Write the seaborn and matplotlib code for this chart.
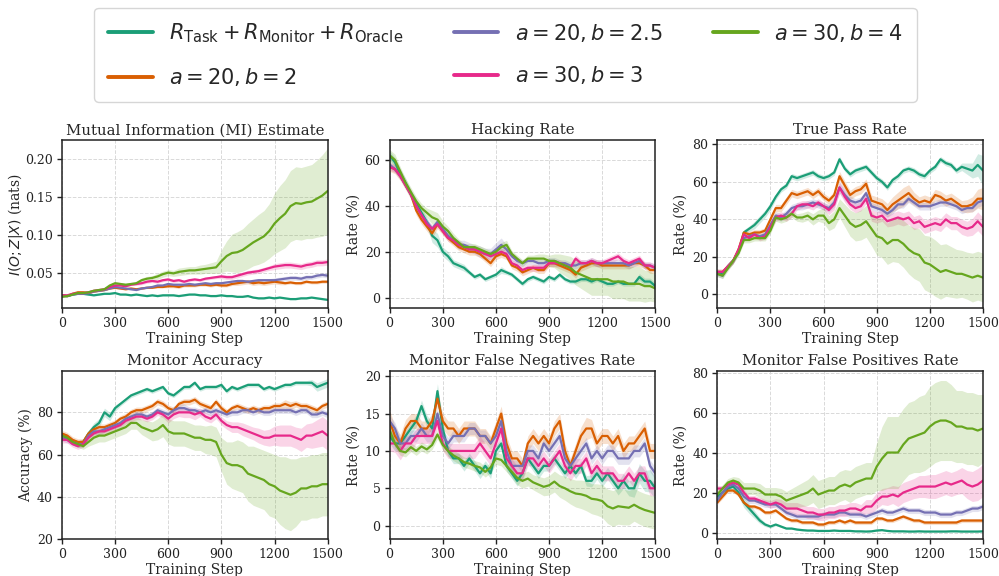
import numpy as np
import pandas as pd
import matplotlib
matplotlib.use("Agg")
import matplotlib.pyplot as plt
from matplotlib.lines import Line2D
import seaborn as sns

# ---------------------------------------------------------------- data
steps = np.arange(0, 1501, 30)

run_labels = [
    r"$R_{\mathrm{Task}}+R_{\mathrm{Monitor}}+R_{\mathrm{Oracle}}$",
    r"$a=20, b=2$",
    r"$a=20, b=2.5$",
    r"$a=30, b=3$",
    r"$a=30, b=4$",
]

# Mutual information estimate (nats): mean and spread per run
mi_task = [0.020,0.019,0.021,0.022,0.022,0.021,0.020,0.021,0.022,0.022,
           0.023,0.021,0.021,0.020,0.021,0.020,0.019,0.020,0.019,0.020,
           0.020,0.020,0.019,0.020,0.021,0.021,0.020,0.020,0.019,0.019,
           0.020,0.019,0.019,0.018,0.018,0.019,0.017,0.016,0.016,0.017,
           0.016,0.017,0.016,0.015,0.015,0.016,0.016,0.017,0.016,0.015,
           0.014]
mi_task_sd = [0.001,0.001,0.001,0.001,0.001,0.001,0.001,0.001,0.001,0.001,
              0.001,0.001,0.001,0.001,0.001,0.001,0.001,0.001,0.001,0.001,
              0.001,0.001,0.001,0.001,0.001,0.001,0.001,0.001,0.001,0.001,
              0.001,0.001,0.001,0.001,0.001,0.001,0.001,0.001,0.001,0.001,
              0.001,0.001,0.001,0.001,0.001,0.001,0.001,0.001,0.001,0.001,
              0.001]
mi_a20b2 = [0.020,0.019,0.022,0.024,0.024,0.023,0.025,0.026,0.027,0.029,
            0.030,0.029,0.028,0.029,0.028,0.029,0.030,0.030,0.031,0.031,
            0.032,0.032,0.031,0.033,0.033,0.033,0.034,0.034,0.033,0.034,
            0.033,0.033,0.035,0.036,0.037,0.038,0.036,0.037,0.036,0.037,
            0.038,0.037,0.036,0.037,0.036,0.036,0.038,0.037,0.037,0.038,
            0.038]
mi_a20b2_sd = [0.001,0.001,0.001,0.001,0.001,0.001,0.001,0.001,0.001,0.001,
               0.001,0.001,0.001,0.001,0.001,0.001,0.001,0.001,0.001,0.001,
               0.002,0.002,0.002,0.002,0.002,0.002,0.002,0.002,0.002,0.002,
               0.002,0.002,0.002,0.003,0.003,0.003,0.003,0.003,0.003,0.003,
               0.003,0.003,0.002,0.002,0.002,0.002,0.002,0.002,0.002,0.002,
               0.002]
mi_a20b25 = [0.019,0.019,0.021,0.022,0.022,0.023,0.025,0.026,0.027,0.029,
             0.031,0.030,0.029,0.028,0.027,0.029,0.030,0.031,0.033,0.033,
             0.035,0.034,0.034,0.034,0.035,0.034,0.035,0.036,0.035,0.036,
             0.036,0.037,0.038,0.039,0.039,0.038,0.039,0.040,0.040,0.040,
             0.040,0.041,0.042,0.043,0.043,0.042,0.044,0.044,0.046,0.047,
             0.046]
mi_a20b25_sd = [0.001,0.001,0.001,0.001,0.001,0.001,0.001,0.001,0.001,0.001,
                0.001,0.001,0.001,0.001,0.001,0.001,0.001,0.001,0.001,0.001,
                0.002,0.002,0.002,0.002,0.002,0.002,0.002,0.002,0.002,0.002,
                0.002,0.002,0.002,0.002,0.002,0.002,0.002,0.002,0.002,0.002,
                0.003,0.003,0.003,0.003,0.003,0.003,0.003,0.003,0.003,0.003,
                0.003]
mi_a30b3 = [0.020,0.020,0.022,0.023,0.023,0.024,0.026,0.027,0.028,0.031,
            0.033,0.033,0.032,0.034,0.035,0.036,0.038,0.039,0.038,0.040,
            0.041,0.039,0.040,0.038,0.040,0.041,0.040,0.042,0.043,0.044,
            0.045,0.044,0.044,0.046,0.048,0.050,0.051,0.052,0.054,0.056,
            0.058,0.059,0.060,0.060,0.059,0.058,0.060,0.061,0.063,0.063,
            0.064]
mi_a30b3_sd = [0.001,0.001,0.001,0.001,0.001,0.001,0.001,0.001,0.001,0.001,
               0.001,0.001,0.001,0.001,0.002,0.002,0.002,0.002,0.002,0.002,
               0.002,0.002,0.002,0.002,0.002,0.002,0.002,0.002,0.002,0.002,
               0.003,0.003,0.003,0.003,0.003,0.003,0.003,0.003,0.003,0.003,
               0.004,0.004,0.004,0.004,0.004,0.004,0.004,0.004,0.004,0.004,
               0.004]
mi_a30b4 = [0.018,0.019,0.021,0.023,0.023,0.024,0.026,0.027,0.028,0.033,
            0.036,0.035,0.034,0.035,0.036,0.040,0.042,0.043,0.045,0.048,
            0.050,0.049,0.051,0.052,0.053,0.053,0.054,0.055,0.056,0.057,
            0.065,0.072,0.076,0.077,0.080,0.085,0.090,0.094,0.098,0.105,
            0.115,0.122,0.128,0.138,0.142,0.141,0.143,0.144,0.148,0.152,
            0.158]
mi_a30b4_sd = [0.001,0.001,0.001,0.001,0.001,0.001,0.001,0.001,0.002,0.002,
               0.002,0.002,0.002,0.002,0.002,0.003,0.003,0.003,0.004,0.004,
               0.004,0.004,0.005,0.005,0.005,0.005,0.006,0.006,0.007,0.008,
               0.015,0.020,0.025,0.027,0.028,0.030,0.031,0.033,0.034,0.036,
               0.040,0.043,0.045,0.047,0.048,0.048,0.048,0.049,0.051,0.054,
               0.057]

# Hacking rate (%)
hack_task = [62,59,54,50,45,41,37,33,27,25,
             20,18,15,14,13,11,9,10,8,9,
             10,12,11,10,8,6,8,9,8,7,
             9,8,10,8,7,7,8,8,7,8,
             7,6,6,7,6,6,6,9,7,7,
             5]
hack_task_sd = [2,2,2,2,2,2,2,2,3,3,
                2,2,1.5,1.5,1.5,1,1,1,1,1,
                1,1.5,1,1,1,1,1,1,1,1,
                1,1,1,1,1,1,1,1,1,1,
                1,1,1,1,1,1,1,1.5,1.5,1.5,
                1.5]
hack_a20b2 = [57,56,53,49,45,38,34,31,28,32,
              29,26,24,22,21,20,20,19,17,15,
              18,19,18,14,13,11,12,13,12,12,
              15,15,14,13,12,10,13,14,15,15,
              14,14,14,14,14,14,15,15,14,12,
              12]
hack_a20b2_sd = [2,2,2,2,2,2,2,2,2,2,
                 1.5,1.5,1.5,1.5,1.5,1.5,1.5,1.5,1.5,1.5,
                 1.5,1.5,1.5,1.5,1.5,1.5,1.5,1.5,1.5,1.5,
                 1.5,1.5,1.5,1.5,1.5,1.5,1.5,1.5,1.5,1.5,
                 1.5,1.5,1.5,1.5,1.5,1.5,1.5,1.5,1.5,1.5,
                 1.5]
hack_a20b25 = [58,56,53,49,45,40,36,33,30,33,
               30,27,25,23,23,22,21,20,19,19,
               21,23,21,18,16,15,16,16,15,15,
               16,16,15,15,14,14,15,15,16,15,
               15,15,15,15,15,14,15,16,14,14,
               13]
hack_a20b25_sd = [1.5,1.5,1.5,1.5,1.5,1.5,1.5,1.5,1.5,1.5,
                  1.5,1.5,1.5,2,2,2,2,2.5,2.5,2.5,
                  3,3,2,2,1.5,1.5,1.5,1.5,1.5,1.5,
                  1.5,1.5,1.5,1.5,1.5,1.5,1.5,1.5,1.5,1.5,
                  1.5,1.5,1.5,1.5,1.5,1.5,1.5,1.5,1.5,1.5,
                  1.5]
hack_a30b3 = [57,56,53,49,45,40,36,32,30,32,
              29,26,25,23,22,21,21,20,19,18,
              19,20,19,15,14,12,13,13,13,13,
              15,15,15,14,13,17,15,15,16,15,
              15,16,17,18,16,15,16,17,14,14,
              13]
hack_a30b3_sd = [1.5,1.5,1.5,1.5,1.5,1.5,1.5,1.5,1.5,1.5,
                 1.5,1.5,1.5,1.5,1.5,1.5,1.5,1.5,1.5,1.5,
                 1.5,1.5,1.5,1.5,1.5,1.5,1.5,1.5,1.5,1.5,
                 1.5,1.5,1.5,1.5,1.5,1.5,1.5,1.5,1.5,1.5,
                 1.5,1.5,1.5,1.5,1.5,1.5,1.5,1.5,1.5,1.5,
                 1.5]
hack_a30b4 = [62,60,55,50,46,42,39,37,35,34,
              31,29,26,24,22,22,22,21,20,19,
              20,22,23,19,17,15,17,17,17,17,
              16,16,15,14,13,11,10,9,8,8,
              8,8,7,7,7,6,6,6,5,5,
              4]
hack_a30b4_sd = [2.5,2.5,2,2,2,2,2,2,3,3,
                 2.5,2,2,1.5,1.5,1.5,1.5,1.5,1.5,1.5,
                 1.5,2,2,1.5,1.5,1.5,1.5,1.5,2,2,
                 2.5,3,4,4.5,5,5.5,6,6.5,7,7,
                 7,7,7.5,7.5,7.5,7.5,7.5,7.5,7,6.5,
                 6]

# True pass rate (%)
pass_task = [12,11,15,18,23,33,35,37,40,43,
             47,52,56,58,63,62,63,64,65,63,
             62,63,65,72,67,64,66,67,68,65,
             62,60,57,61,63,66,67,66,64,63,
             66,68,72,70,69,66,68,67,66,69,
             66]
pass_task_sd = [1.5,1.5,1.5,1.5,1.5,1.5,1.5,2,2,2,
                2,1.5,1.5,1.5,1.5,1.5,1.5,1.5,1.5,1.5,
                1.5,1.5,1.5,1.5,1.5,1.5,1.5,1.5,1.5,1.5,
                1.5,1.5,1.5,1.5,1.5,1.5,1.5,1.5,1.5,1.5,
                1.5,1.5,1.5,1.5,1.5,1.5,2,3,4,6,
                8]
pass_a20b2 = [12,12,15,18,24,33,32,33,33,34,
              40,46,46,50,54,53,54,55,53,55,
              52,50,53,63,58,53,55,56,59,50,
              49,48,45,48,50,52,54,51,49,50,
              49,53,52,50,51,49,47,47,48,51,
              51]
pass_a20b2_sd = [1.5,1.5,1.5,1.5,1.5,1.5,1.5,1.5,1.5,1.5,
                 2,2,2,2,2,2,2,2,2,2,
                 2,2,2,2.5,2.5,2.5,2.5,2.5,2.5,3,
                 3,3,3.5,4,4.5,5,4.5,3.5,3,3,
                 3,3,3,3,3,3,3,3.5,4,5,
                 6]
pass_a20b25 = [11,10,15,18,23,30,31,32,31,32,
               37,42,41,43,46,47,47,48,49,48,
               47,46,49,57,53,50,49,50,54,47,
               46,45,43,45,48,48,51,49,47,47,
               47,48,49,49,48,47,45,46,46,49,
               50]
pass_a20b25_sd = [1.5,1.5,1.5,1.5,1.5,1.5,1.5,1.5,1.5,1.5,
                  2,2,2,2,2,2,2,2,2,2,
                  2,2,2.5,3,3,2.5,2,2,2,2,
                  2,2,2,2,2,2,2,2,2,2,
                  2,2,2,2,2,2,2,2,2,2.5,
                  2.5]
pass_a30b3 = [12,12,15,18,24,32,30,32,30,31,
              36,41,42,41,43,47,48,48,47,49,
              47,45,48,57,52,48,46,47,51,42,
              41,42,39,40,41,40,41,38,39,36,
              37,38,37,40,38,38,36,35,36,39,
              36]
pass_a30b3_sd = [1.5,1.5,1.5,1.5,1.5,1.5,1.5,1.5,1.5,1.5,
                 2,2,2,2,2,2,2,2,2,2,
                 2,2.5,3,3,3,2.5,2.5,2.5,2.5,3,
                 3,3,3,3.5,3.5,3.5,3.5,3.5,3.5,3.5,
                 3.5,3.5,3.5,3.5,3.5,3.5,4,4,4.5,5,
                 5]
pass_a30b4 = [11,10,14,18,22,29,29,30,30,30,
              34,41,40,41,43,41,41,42,40,42,
              42,38,40,46,42,38,36,37,39,35,
              31,30,27,29,29,27,24,22,21,17,
              16,14,12,13,12,11,11,10,9,10,
              9]
pass_a30b4_sd = [1.5,1.5,1.5,1.5,1.5,1.5,1.5,1.5,1.5,1.5,
                 1.5,2,2,2,2,2,2.5,2.5,3,3,
                 4,4,4.5,5,6,7,7.5,8,8.5,9,
                 10,10.5,11,11.5,12,12.5,13,13.5,14,14.5,
                 15,15,14.5,14,13.5,13,12.5,12.5,13,13,
                 13]

# Monitor accuracy (%)
acc_task = [69,68,66,65,66,70,73,75,80,78,
            82,84,86,88,89,90,91,90,91,92,
            89,88,90,92,92,94,91,92,92,92,
            93,90,92,91,92,93,93,93,91,92,
            91,92,93,93,94,94,94,94,92,93,
            94]
acc_task_sd = [1.5,1.5,1.5,1.5,1.5,1.5,2,2,2,2,
               1.5,1,1,1,1,1,1,1,1,1,
               1,1,1,1,1,1,1,1,1,1,
               1,1,1,1,1,1,1,1,1,1,
               1,1,1,1,1,1,1,1.5,2,2,
               2]
acc_a20b2 = [70,69,67,66,66,70,72,73,73,74,
             75,77,78,80,81,81,82,83,85,84,
             82,81,84,85,85,86,84,83,82,85,
             82,80,82,83,82,81,82,81,82,82,
             83,83,84,83,84,83,83,82,81,83,
             84]
acc_a20b2_sd = [1.5,1.5,1.5,1.5,1.5,1.5,1.5,1.5,1.5,1.5,
                1.5,1.5,1.5,1.5,1.5,1.5,1.5,1.5,1.5,1.5,
                1.5,1.5,1.5,1.5,1.5,1.5,1.5,1.5,1.5,1.5,
                1.5,1.5,1.5,1.5,1.5,1.5,1.5,1.5,1.5,1.5,
                1.5,1.5,2,2,1.5,1.5,1.5,1.5,1.5,1.5,
                1.5]
acc_a20b25 = [68,67,66,65,65,69,71,71,72,73,
              74,75,77,78,79,79,78,79,81,80,
              79,81,82,82,81,81,80,81,80,81,
              80,79,80,80,81,81,80,81,80,80,
              81,81,81,81,80,81,81,79,79,80,
              79]
acc_a20b25_sd = [1.5,1.5,1.5,1.5,1.5,1.5,1.5,1.5,1.5,1.5,
                 1.5,1.5,1.5,1.5,1.5,1.5,1.5,1.5,1.5,1.5,
                 1.5,2,2,2,1.5,1.5,1.5,1.5,1.5,1.5,
                 1.5,1.5,1.5,1.5,1.5,1.5,1.5,1.5,1.5,1.5,
                 1.5,1.5,1.5,1.5,1.5,1.5,1.5,1.5,1.5,1.5,
                 1.5]
acc_a30b3 = [67,67,65,64,65,68,70,71,71,72,
             73,74,76,77,78,78,77,78,80,79,
             77,79,80,80,80,79,80,78,77,79,
             76,74,73,73,72,71,70,69,68,68,
             69,69,69,69,68,67,69,69,70,71,
             69]
acc_a30b3_sd = [1.5,1.5,1.5,1.5,1.5,1.5,1.5,1.5,1.5,1.5,
                1.5,1.5,1.5,1.5,1.5,1.5,1.5,1.5,1.5,1.5,
                2,2,2,2.5,2.5,2.5,2,2,2,2,
                2,2,2.5,2.5,3,3,3,3.5,3.5,4,
                4.5,5,5,5,5,5.5,5.5,6,6.5,7,
                7]
acc_a30b4 = [69,68,66,65,64,66,68,69,69,70,
             71,72,73,75,75,73,72,71,72,74,
             71,70,70,70,69,68,68,67,67,66,
             60,56,55,55,54,51,50,49,48,46,
             45,43,42,41,42,44,44,45,45,46,
             46]
acc_a30b4_sd = [1.5,1.5,1.5,1.5,1.5,2,3,3,3,3,
                3,3,3,3,3,3.5,4,4.5,5,5.5,
                6,6,6,6,6,6,6,6.5,7,7,
                8,10,11,12,12,13,14,14,14,15,
                15,16,17,17,16,15,15,15,15,15,
                15]

# Monitor false negatives rate (%)
fn_task = [12,11,11,12,13,14,16,14,13,18,
           13,10,9,9,8,9,8,7,8,7,
           10,11,8,7,6,7,9,8,7,8,
           8,9,8,7,8,7,8,6,6,7,
           6,7,6,5,6,5,5,7,6,6,
           5]
fn_task_sd = [1,1,0.8,0.8,0.8,0.8,0.8,0.8,0.8,1,
              0.8,0.7,0.7,0.7,0.7,0.7,0.7,0.7,0.7,0.7,
              0.7,0.7,0.7,0.7,0.7,0.7,0.7,0.7,0.7,0.7,
              0.7,0.7,0.7,0.7,0.7,0.7,0.7,0.7,0.8,0.8,
              0.8,0.8,0.8,0.9,1,1,1.2,1.3,1.4,1.5,
              1.5]
fn_a20b2 = [14,12,11,13,14,14,13,13,14,17,
            14,13,13,12,13,13,13,12,12,11,
            13,15,11,9,9,8,11,12,11,12,
            11,13,14,10,8,10,12,13,13,11,
            12,12,11,12,10,11,11,12,13,10,
            10]
fn_a20b2_sd = [1.5,1.3,1.2,1.2,1,1,1,1,1,1,
               1,1,1,1,1,1,1,1,1,1,
               1,1,1,1,1,1,1,1,1,1,
               1,1,1,1,1,1,1.2,1.5,1.2,1,
               1,1,1,1,1,1,1,1,1,1,
               1]
fn_a20b25 = [14,13,11,11,12,12,13,12,12,15,
             12,11,12,12,12,13,13,12,12,11,
             12,14,10,8,8,8,10,10,9,11,
             10,11,12,9,8,9,10,11,9,10,
             9,10,10,9,9,9,10,10,11,8,
             7]
fn_a20b25_sd = [0.8,0.8,0.8,0.8,0.8,0.8,0.8,0.8,0.8,0.8,
                0.8,0.8,0.8,0.8,0.8,0.8,0.8,0.8,0.8,0.8,
                0.8,0.8,0.8,0.8,0.8,0.8,0.8,0.8,0.8,0.8,
                0.8,0.8,0.8,0.8,0.8,0.8,0.8,0.8,0.8,0.8,
                0.8,0.8,0.8,0.8,0.8,0.8,0.8,0.8,0.8,0.8,
                0.8]
fn_a30b3 = [11,11,10,11,11,12,12,12,12,14,
            11,10,10,10,10,10,10,11,10,9,
            11,13,9,8,7,7,9,9,8,9,
            8,9,10,8,7,8,8,9,7,8,
            7,7,7,6,6,7,6,7,7,5,
            5]
fn_a30b3_sd = [1,1.2,1.2,1,1,1,1,1,1,1,
               1,1,1,1,1,1,1,1,1,1,
               1,1,1,1,1,1,1,1,1,1,
               1,1,1,1,1,1,1,1,1,1,
               1,1,1,1,1,1,1,1,1,1,
               1]
fn_a30b4 = [12.8,11.0,10.0,9.8,10.5,10.0,10.6,10.2,10.8,12.2,
            10.8,10.0,9.4,9.0,8.5,8.3,8.0,7.8,7.2,7.8,
            9.0,8.8,8.0,7.2,6.4,6.0,6.3,5.8,5.5,5.2,
            5.4,5.9,5.3,5.0,4.6,4.3,4.2,4.0,3.6,3.5,
            3.3,2.6,2.3,2.6,2.5,2.4,2.8,2.4,2.1,1.9,
            1.7]
fn_a30b4_sd = [0.6,0.6,0.6,0.6,0.6,0.6,0.6,0.6,0.6,0.6,
               0.7,0.7,0.7,0.7,0.7,0.7,0.7,0.7,0.7,0.7,
               0.8,0.8,0.8,0.8,0.9,1,1,1,1.1,1.2,
               1.3,1.4,1.5,1.6,1.7,1.8,1.9,2,2,2.1,
               2.2,2.3,2.4,2.4,2.4,2.3,2.2,2.2,2.2,2.2,
               2.2]

# Monitor false positives rate (%)
fp_task = [18,20,22,23,20,15,12,9,6,4,
           3,4,3,2,2,1.5,1.2,1,1,0.8,
           0.8,0.8,1,0.8,0.8,0.8,0.6,0.6,0.5,0.6,
           1,1.2,0.8,0.6,0.6,0.6,0.5,0.5,0.6,0.5,
           0.5,0.5,0.5,0.5,0.6,0.6,0.5,0.5,0.5,0.5,
           0.6]
fp_task_sd = [1.5,1.5,1.5,1.5,2,2.5,2.5,2,1.5,1,
              0.8,0.6,0.5,0.4,0.4,0.4,0.4,0.4,0.4,0.4,
              0.3,0.3,0.3,0.3,0.3,0.3,0.3,0.3,0.3,0.3,
              0.3,0.3,0.3,0.3,0.3,0.3,0.3,0.3,0.3,0.3,
              0.3,0.3,0.3,0.3,0.3,0.3,0.3,0.3,0.3,0.3,
              0.3]
fp_a20b2 = [15,18,21,21,19,15,13,13,12,10,
            10,11,9,7,6,6,5,5,5,4,
            4,5,5,6,5,6,5,5,5,5,
            7,7,6,6,7,8,7,6,6,5,
            5,5,5,5,5,5,6,6,6,6,
            6]
fp_a20b2_sd = [1,1,1,1,1,1,1,1,1,1,
               1,1,1,1,1,1,1,1,1,1,
               1,1,1,1,1,1,1,1,1,1,
               1,1,1,1,1,1,1,1,1,1,
               1,1,1,1,1,1,1,1,1,1,
               1]
fp_a20b25 = [16,20,23,24,22,18,16,16,15,14,
             14,14,12,10,9,8,8,8,8,8,
             9,9,9,10,10,9,9,9,8,9,
             10,11,10,10,11,12,11,11,11,10,
             10,10,9,9,9,10,10,11,12,12,
             13]
fp_a20b25_sd = [1.5,1.5,1.5,1.5,1.5,1.5,1.5,1.5,1.5,1.5,
                1.5,1.5,1.5,1.5,1.5,1.5,1.5,1.5,1.5,1.5,
                1.5,1.5,1.5,1.5,1.5,1.5,1.5,1.5,1.5,1.5,
                1.5,1.5,1.5,1.5,1.5,1.5,1.5,1.5,1.5,1.5,
                1.5,1.5,1.5,1.5,1.5,1.5,1.5,1.5,1.5,1.5,
                1.5]
fp_a30b3 = [22,22,24,25,24,20,17,17,16,15,
            14,15,14,12,12,12,11,10,10,9,
            9,10,10,11,11,12,12,11,13,13,
            16,18,18,19,18,20,21,22,23,23,
            23,23,24,25,24,25,26,24,23,24,
            26]
fp_a30b3_sd = [1.5,1.5,1.5,1.5,1.5,1.5,1.5,1.5,1.5,1.5,
               2,2,2.5,3,3,3,3,3,3,3,
               3,3,3,3,3,3,3,3,3.5,3.5,
               4,4,4.5,4.5,5,5,5,5,5.5,5.5,
               6,6,6,6,6,6,6.5,7,7.5,8,
               8]
fp_a30b4 = [19,22,25,26,25,22,22,22,21,19,
            19,19,18,16,17,18,19,20,22,19,
            20,21,21,23,24,23,25,26,27,27,
            33,37,40,40,40,44,47,48,49,50,
            53,55,56,56,55,53,53,52,52,51,
            52]
fp_a30b4_sd = [2,2,2,2,2.5,3,3,3,3.5,3.5,
               3.5,3.5,4,4.5,5,5.5,6,6.5,7,7,
               7,7,7,7.5,7.5,8,8,8,8,8,
               12,16,18,18,18,18,18,18,19,19,
               20,20,20,20,19,18,18,18,18,18,
               17]

panels = [
    ("Mutual Information (MI) Estimate", r"$I(O;Z|X)$ (nats)",
     [mi_task, mi_a20b2, mi_a20b25, mi_a30b3, mi_a30b4],
     [mi_task_sd, mi_a20b2_sd, mi_a20b25_sd, mi_a30b3_sd, mi_a30b4_sd],
     (0.003, 0.2255), [0.05, 0.10, 0.15, 0.20]),
    ("Hacking Rate", "Rate (%)",
     [hack_task, hack_a20b2, hack_a20b25, hack_a30b3, hack_a30b4],
     [hack_task_sd, hack_a20b2_sd, hack_a20b25_sd, hack_a30b3_sd, hack_a30b4_sd],
     (-4.6, 68.7), [0, 20, 40, 60]),
    ("True Pass Rate", "Rate (%)",
     [pass_task, pass_a20b2, pass_a20b25, pass_a30b3, pass_a30b4],
     [pass_task_sd, pass_a20b2_sd, pass_a20b25_sd, pass_a30b3_sd, pass_a30b4_sd],
     (-7.3, 82.3), [0, 20, 40, 60, 80]),
    ("Monitor Accuracy", "Accuracy (%)",
     [acc_task, acc_a20b2, acc_a20b25, acc_a30b3, acc_a30b4],
     [acc_task_sd, acc_a20b2_sd, acc_a20b25_sd, acc_a30b3_sd, acc_a30b4_sd],
     (20, 99.6), [20, 40, 60, 80]),
    ("Monitor False Negatives Rate", "Rate (%)",
     [fn_task, fn_a20b2, fn_a20b25, fn_a30b3, fn_a30b4],
     [fn_task_sd, fn_a20b2_sd, fn_a20b25_sd, fn_a30b3_sd, fn_a30b4_sd],
     (-1.8, 20.7), [0, 5, 10, 15, 20]),
    ("Monitor False Positives Rate", "Rate (%)",
     [fp_task, fp_a20b2, fp_a20b25, fp_a30b3, fp_a30b4],
     [fp_task_sd, fp_a20b2_sd, fp_a20b25_sd, fp_a30b3_sd, fp_a30b4_sd],
     (-3.3, 80.8), [0, 20, 40, 60, 80]),
]

# ---------------------------------------------------------------- style
sns.set_style("ticks", {
    "axes.grid": True,
    "grid.linestyle": "--",
    "grid.color": "#d9d9d9",
    "axes.edgecolor": "#222222",
    "xtick.color": "#222222",
    "ytick.color": "#222222",
})
plt.rcParams["font.family"] = ["DejaVu Serif"]
plt.rcParams["mathtext.fontset"] = "dejavusans"
plt.rcParams["grid.linewidth"] = 0.7
plt.rcParams["axes.linewidth"] = 1.1

palette = sns.color_palette("Dark2", 5)

fig = plt.figure(figsize=(9.99, 5.76), dpi=100)

lefts = [0.062, 0.390, 0.718]
bottoms = [0.465, 0.064]
width, height = 0.266, 0.292

for k, (title, ylabel, means, spreads, ylim, yticks) in enumerate(panels):
    ax = fig.add_axes([lefts[k % 3], bottoms[k // 3], width, height])
    frames = []
    for label, m in zip(run_labels, means):
        frames.append(pd.DataFrame({"step": steps, "value": m, "run": label}))
    df = pd.concat(frames, ignore_index=True)
    for label, m, s, c in zip(run_labels, means, spreads, palette):
        m = np.asarray(m, float)
        s = np.asarray(s, float)
        ax.fill_between(steps, m - s, m + s, color=c, alpha=0.2, linewidth=0)
    sns.lineplot(data=df, x="step", y="value", hue="run", hue_order=run_labels,
                 palette=palette, linewidth=1.6, errorbar=None, legend=False, ax=ax)
    ax.set_xlim(0, 1500)
    ax.set_xticks([0, 300, 600, 900, 1200, 1500])
    ax.set_ylim(*ylim)
    ax.set_yticks(yticks)
    if k == 0:
        ax.set_yticklabels([f"{t:.2f}" for t in yticks])
    ax.tick_params(labelsize=9, length=3.5, width=1, pad=3)
    ax.set_title(title, fontsize=10.7, pad=4)
    ax.set_xlabel("Training Step", fontsize=10, labelpad=1)
    ax.set_ylabel(ylabel, fontsize=10, labelpad=0 if k == 0 else 3)
    for sp in ax.spines.values():
        sp.set_visible(True)

handles = [Line2D([], [], color=c, linewidth=2.8) for c in palette]
fig.legend(handles, run_labels, loc="upper center", bbox_to_anchor=(0.506, 0.986),
           ncol=3, fontsize=15, handlelength=2.15, handletextpad=0.8,
           columnspacing=2.4, labelspacing=1.0, borderpad=0.65, borderaxespad=0,
           frameon=True, edgecolor="#cccccc")

fig.savefig("out.png", dpi=100)
